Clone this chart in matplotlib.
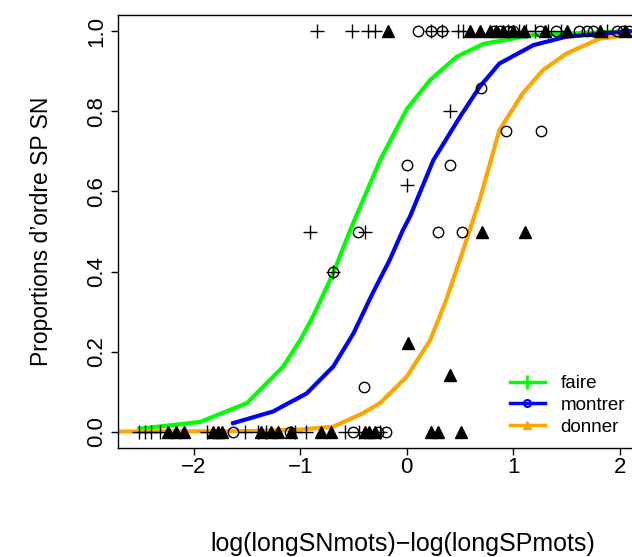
import numpy as np
import matplotlib
matplotlib.use("Agg")
import matplotlib.pyplot as plt
from matplotlib.lines import Line2D

plt.rcParams['font.family'] = ['Liberation Sans', 'DejaVu Sans']

# observed proportions (x = log(longSNmots)-log(longSPmots))
faire_x = [-0.84, -0.51, -0.36, -0.30, 0.23, 0.33, 0.48, 0.53, 0.95, 1.05, 1.12, 1.20, 1.33, 1.45, 1.88, 2.30,
           0.41, 0.0, -0.91, -0.39, -0.69,
           -2.51, -2.46, -2.40, -2.32, -1.87, -1.52, -1.40, -1.32, -1.05, -0.95, -0.58, -0.45, -0.25]
faire_y = [1, 1, 1, 1, 1, 1, 1, 1, 1, 1, 1, 1, 1, 1, 1, 1,
           0.8, 0.615, 0.5, 0.5, 0.4,
           0, 0, 0, 0, 0, 0, 0, 0, 0, 0, 0, 0, 0]

montrer_x = [0.11, 0.23, 0.33, 0.82, 0.88, 0.95, 1.0, 1.25, 1.4, 1.62, 1.69, 1.75, 1.97, 2.03, 2.09, 2.2, 2.44,
             0.70, 0.93, 1.26, 0.0, 0.41, -0.46, 0.29, 0.52, -0.69, -0.40,
             -1.63, -1.10, -0.50, -0.27, -0.19]
montrer_y = [1, 1, 1, 1, 1, 1, 1, 1, 1, 1, 1, 1, 1, 1, 1, 1, 1,
             0.857, 0.75, 0.75, 0.667, 0.667, 0.5, 0.5, 0.5, 0.4, 0.111,
             0, 0, 0, 0, 0]

donner_x = [-0.18, 0.59, 0.69, 0.78, 0.84, 0.90, 1.0, 1.10, 1.30, 1.50, 1.81, 2.05, 2.25,
            0.71, 1.11, 0.01, 0.41,
            -2.24, -2.17, -2.09, -1.82, -1.77, -1.73, -1.37, -1.27, -1.21, -1.09,
            -0.80, -0.71, -0.39, -0.35, -0.30, 0.23, 0.29, 0.51]
donner_y = [1, 1, 1, 1, 1, 1, 1, 1, 1, 1, 1, 1, 1,
            0.5, 0.5, 0.222, 0.143,
            0, 0, 0, 0, 0, 0, 0, 0, 0, 0,
            0, 0, 0, 0, 0, 0, 0, 0]

# fitted curves
faire_fx = [-2.51, -1.94, -1.50, -1.16, -1.00, -0.88, -0.69, -0.53, -0.25, 0.0, 0.22, 0.47, 0.72, 1.18, 2.10, 2.44]
faire_fy = [0.008, 0.025, 0.072, 0.163, 0.229, 0.288, 0.396, 0.504, 0.678, 0.805, 0.878, 0.936, 0.968, 0.990, 1.0, 1.0]

montrer_fx = [-1.63, -1.255, -0.94, -0.69, -0.50, -0.32, -0.16, -0.035, 0.03, 0.25, 0.50, 0.685, 0.87, 1.19, 1.50, 2.09, 2.44]
montrer_fy = [0.022, 0.051, 0.096, 0.163, 0.246, 0.346, 0.429, 0.504, 0.537, 0.678, 0.786, 0.861, 0.919, 0.965, 0.986, 0.999, 1.0]

donner_fx = [-2.75, -1.50, -1.00, -0.69, -0.41, -0.25, 0.0, 0.22, 0.37, 0.53, 0.685, 0.87, 1.09, 1.28, 1.50, 1.81, 2.09, 2.44]
donner_fy = [0.001, 0.002, 0.006, 0.013, 0.047, 0.072, 0.138, 0.229, 0.329, 0.454, 0.579, 0.753, 0.845, 0.903, 0.944, 0.981, 0.990, 0.996]

verbs = ["faire", "montrer", "donner"]
colors = ["#00FF00", "#0000FF", "#FFA500"]

fig = plt.figure(figsize=(6.32, 5.57), dpi=100)
# plot region runs past the right edge of the picture
ax = fig.add_axes([118 / 632, 109 / 557, 570 / 632, 433 / 557])

ax.plot(faire_fx, faire_fy, color=colors[0], lw=3)
ax.plot(montrer_fx, montrer_fy, color=colors[1], lw=3)
ax.plot(donner_fx, donner_fy, color=colors[2], lw=3)

ax.plot(faire_x, faire_y, ls='none', marker='+', ms=10, mew=1, color='black')
ax.plot(montrer_x, montrer_y, ls='none', marker='o', ms=7.5, mew=1, mfc='none', color='black')
ax.plot(donner_x, donner_y, ls='none', marker='^', ms=8, color='black')

ax.set_xlim(-2.71, 2.64)
ax.set_ylim(-0.04, 1.04)
ax.set_xticks([-2, -1, 0, 1, 2])
ax.set_yticks([0, 0.2, 0.4, 0.6, 0.8, 1.0])
ax.set_yticklabels(["0.0", "0.2", "0.4", "0.6", "0.8", "1.0"])
ax.tick_params(length=5, width=1, labelsize=16, direction='out')
ax.tick_params(axis='x', pad=1.5)
ax.tick_params(axis='y', pad=3, labelrotation=90)
for lab in ax.get_yticklabels():
    lab.set_va('center')
for s in ax.spines.values():
    s.set_linewidth(1)

ax.set_xlabel("log(longSNmots)\u2212log(longSPmots)", fontsize=18, labelpad=39)
ax.set_ylabel("Proportions d\u2019ordre SP SN", fontsize=16.5, labelpad=24)

handles = [
    Line2D([], [], color=colors[0], lw=2.5, marker='+', ms=10, mew=2),
    Line2D([], [], color=colors[1], lw=2.5, marker='o', ms=5, mew=1.5, mfc='none'),
    Line2D([], [], color=colors[2], lw=2.5, marker='^', ms=6),
]
ax.legend(handles, verbs, loc='upper left', bbox_to_anchor=(510 / 632, 1 - 375 / 557),
          bbox_transform=fig.transFigure, frameon=False, borderpad=0, borderaxespad=0,
          fontsize=13.5, handlelength=1.85, handletextpad=0.85, labelspacing=0.25)

fig.savefig("out.png", dpi=100)
